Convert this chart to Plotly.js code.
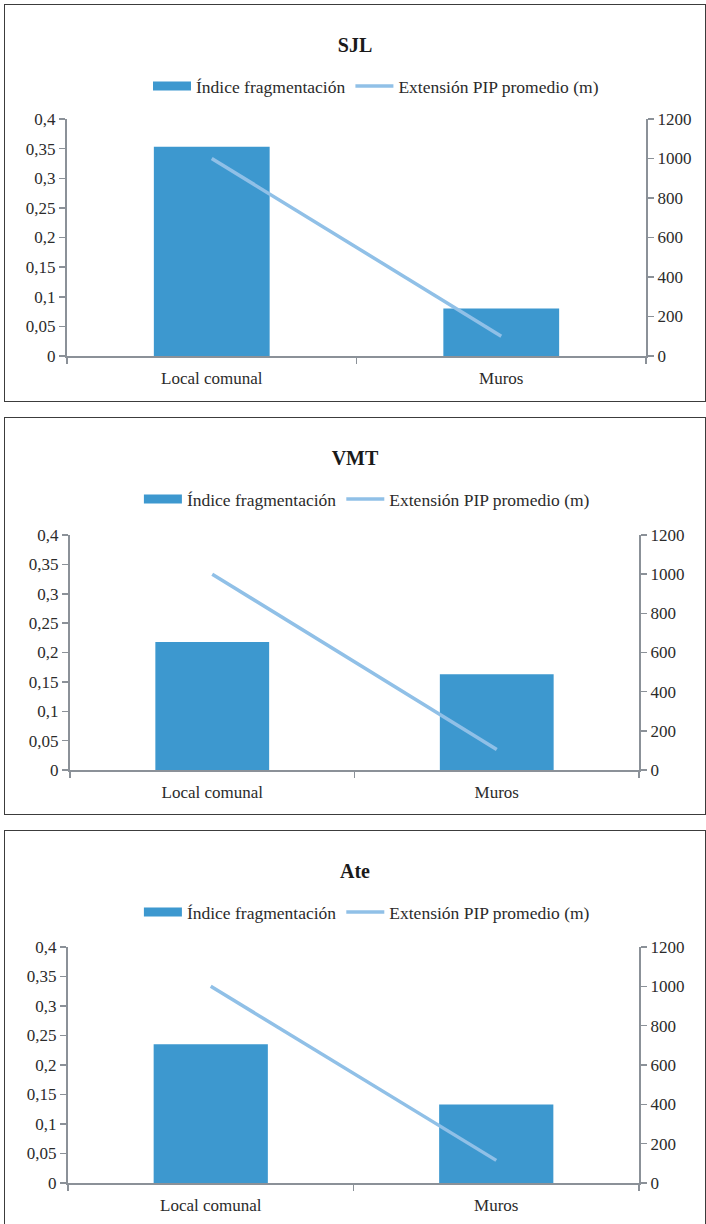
<!DOCTYPE html>
<html>
<head>
<meta charset="utf-8">
<script src="https://cdn.plot.ly/plotly-3.0.1.min.js"></script>
<style>
  html, body { margin: 0; padding: 0; background: #ffffff; }
  body { width: 706px; height: 1224px; position: relative; overflow: hidden; }
  .panel { position: absolute; left: 4px; width: 700px; height: 396px;
           border: 1.5px solid #3c3c3c; background: #fff; }
</style>
</head>
<body>
<div id="p1" class="panel" style="top:4px"></div>
<div id="p2" class="panel" style="top:417px"></div>
<div id="p3" class="panel" style="top:830px"></div>
<script>
// ---- data ----
const categories = ["Local comunal", "Muros"];
const panelTitles = ["SJL", "VMT", "Ate"];
const barName = "Índice fragmentación";
const lineName = "Extensión PIP promedio (m)";
const indiceSJL = [0.353, 0.08];
const indiceVMT = [0.218, 0.163];
const indiceAte = [0.235, 0.133];
const extensionSJL = [1000, 100];
const extensionVMT = [1000, 105];
const extensionAte = [1000, 115];
const leftTicks = [0, 0.05, 0.1, 0.15, 0.2, 0.25, 0.3, 0.35, 0.4];
const rightTicks = [0, 200, 400, 600, 800, 1000, 1200];

const FONT = "Liberation Serif";
const TXT = "#2b2b2b";
const AX = "#8b9198";
const BAR = "#3d98cf";
const LINE = "#90c0e7";

const panels = [
  {id: "p1", bars: indiceSJL, line: extensionSJL, title: panelTitles[0],
   m: {l: 62, r: 59, t: 114, b: 45}, legx: 0.53},
  {id: "p2", bars: indiceVMT, line: extensionVMT, title: panelTitles[1],
   m: {l: 65, r: 66, t: 117, b: 44}, legx: 0.517},
  {id: "p3", bars: indiceAte, line: extensionAte, title: panelTitles[2],
   m: {l: 63, r: 66, t: 116, b: 44}, legx: 0.517}
];

panels.forEach(p => {
  const traces = [
    {type: "bar", x: categories, y: p.bars, name: barName, showlegend: false,
     legendgroup: "bar", marker: {color: BAR}, yaxis: "y", hoverinfo: "skip"},
    // legend entry for the bars (wide flat swatch, as in the original); draws nothing
    {type: "scatter", mode: "lines", x: [categories[0]], y: [null], name: barName,
     legendgroup: "bar", line: {color: BAR, width: 9}, yaxis: "y", hoverinfo: "skip"},
    {type: "scatter", mode: "lines", x: categories, y: p.line, name: lineName,
     line: {color: LINE, width: 3.5}, yaxis: "y2", hoverinfo: "skip"}
  ];
  const layout = {
    width: 700, height: 396,
    margin: p.m,
    paper_bgcolor: "#ffffff", plot_bgcolor: "#ffffff",
    separators: ", ",
    font: {family: FONT, size: 17, color: TXT},
    title: {text: "<b>" + p.title + "</b>", font: {family: FONT, size: 20, color: "#1a1a1a"},
            x: 0.5, xanchor: "center", xref: "container",
            y: 1 - 40 / 396, yanchor: "middle", yref: "container"},
    bargap: 0.6,
    showlegend: true,
    legend: {orientation: "h", x: p.legx, xanchor: "center", xref: "container",
             y: 1 - 81 / 396, yanchor: "middle", yref: "container",
             font: {family: FONT, size: 17.5, color: TXT},
             itemwidth: 38, tracegroupgap: 0, bgcolor: "rgba(0,0,0,0)"},
    xaxis: {type: "category", showline: true, linecolor: AX, linewidth: 2,
            ticks: "outside", tickson: "boundaries", ticklen: 6, tickwidth: 1.5,
            tickcolor: AX, showgrid: false, zeroline: false,
            ticklabelstandoff: 6, tickfont: {family: FONT, size: 17, color: TXT},
            fixedrange: true},
    yaxis: {range: [0, 0.4], tickvals: leftTicks, showline: true, linecolor: AX,
            linewidth: 2, ticks: "outside", ticklen: 6, tickwidth: 1.5, tickcolor: AX,
            showgrid: false, zeroline: false, tickfont: {family: FONT, size: 17, color: TXT},
            fixedrange: true},
    yaxis2: {range: [0, 1200], tickvals: rightTicks, overlaying: "y", side: "right",
             showline: true, linecolor: AX, linewidth: 2, ticks: "outside", ticklen: 6,
             tickwidth: 1.5, tickcolor: AX, showgrid: false, zeroline: false,
             tickfont: {family: FONT, size: 17, color: TXT}, fixedrange: true}
  };
  Plotly.newPlot(p.id, traces, layout, {staticPlot: true, displayModeBar: false});
});
</script>
</body>
</html>
